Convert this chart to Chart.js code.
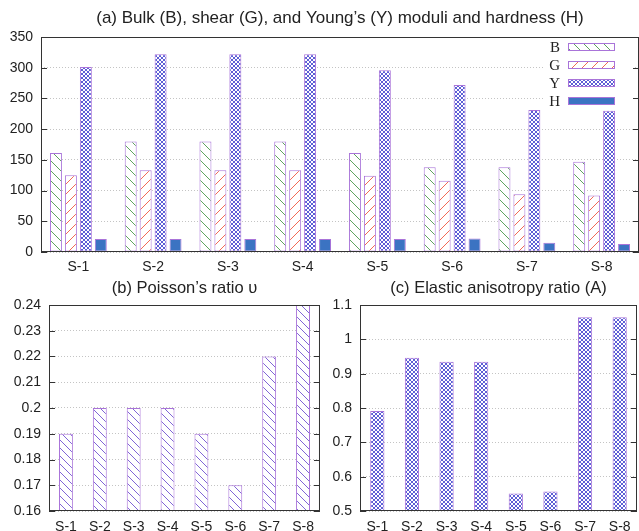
<!DOCTYPE html>
<html><head><meta charset="utf-8">
<script src="https://cdn.jsdelivr.net/npm/chart.js@4"></script>
<style>
html,body{margin:0;padding:0;background:#fff;width:639px;height:531px;overflow:hidden;position:relative}
canvas{position:absolute}
</style>
</head><body>
<canvas id="cA" width="639" height="280" style="left:0px;top:0px"></canvas>
<canvas id="cB" width="322" height="271" style="left:0px;top:260px"></canvas>
<canvas id="cC" width="317" height="271" style="left:322px;top:260px"></canvas>
<script>
const categories = ['S-1','S-2','S-3','S-4','S-5','S-6','S-7','S-8'];
const bulkB   = [161, 180, 180, 180, 161, 138, 138, 147];
const shearG  = [125, 133, 133, 133, 124, 116, 94, 92];
const youngY  = [301, 322, 322, 322, 296, 272, 231, 230];
const hardH   = [21, 21, 21, 21, 21, 22, 15, 13];
const poisson = [0.19, 0.20, 0.20, 0.20, 0.19, 0.17, 0.22, 0.24];
const anisotropy = [0.791, 0.946, 0.935, 0.935, 0.551, 0.557, 1.064, 1.064];
const yTicksA = [0, 50, 100, 150, 200, 250, 300, 350];
const yTicksB = [0.16, 0.17, 0.18, 0.19, 0.20, 0.21, 0.22, 0.23, 0.24];
const yTicksC = [0.5, 0.6, 0.7, 0.8, 0.9, 1.0, 1.1];
const legendLabels = ['B', 'G', 'Y', 'H'];

const FONT = "'Liberation Sans', Arial, sans-serif";
Chart.defaults.font.family = FONT;
Chart.defaults.font.size = 14;
Chart.defaults.color = '#222';
const BORDER = '#a974d9';

function hatch(ctx, color, period, dir) {
  const c = document.createElement('canvas'); c.width = c.height = period;
  const g = c.getContext('2d');
  g.fillStyle = '#fff'; g.fillRect(0, 0, period, period);
  g.strokeStyle = color; g.lineWidth = 1;
  g.beginPath();
  if (dir === '\\') {
    g.moveTo(-1, -1); g.lineTo(period + 1, period + 1);
    g.moveTo(-1, period - 1); g.lineTo(1, period + 1);
    g.moveTo(period - 1, -1); g.lineTo(period + 1, 1);
  } else {
    g.moveTo(-1, period + 1); g.lineTo(period + 1, -1);
    g.moveTo(-1, 1); g.lineTo(1, -1);
    g.moveTo(period - 1, period + 1); g.lineTo(period + 1, period - 1);
  }
  g.stroke();
  return ctx.createPattern(c, 'repeat');
}
function cross(ctx, color) {
  const c = document.createElement('canvas'); c.width = c.height = 4;
  const g = c.getContext('2d');
  g.fillStyle = '#fff'; g.fillRect(0, 0, 4, 4);
  g.fillStyle = color;
  for (let y = 0; y < 4; y++) for (let x = 0; x < 4; x++) {
    if (x === y || x + y === 3) g.fillRect(x, y, 1, 1);
  }
  return ctx.createPattern(c, 'repeat');
}

const framePlugin = {
  id: 'frame',
  afterDraw(chart) {
    const { ctx, chartArea: a } = chart;
    const ys = chart.scales.y;
    ctx.save();
    ctx.strokeStyle = '#333'; ctx.lineWidth = 1;
    ctx.strokeRect(a.left + 0.5, a.top + 0.5, a.right - a.left - 1, a.bottom - a.top - 1);
    ctx.beginPath();
    ys.ticks.forEach(t => {
      const y = Math.round(ys.getPixelForValue(t.value)) + 0.5;
      ctx.moveTo(a.left, y); ctx.lineTo(a.left + 6, y);
      ctx.moveTo(a.right - 6, y); ctx.lineTo(a.right, y);
    });
    ctx.stroke();
    const o = chart.options.plugins.frame || {};
    if (o.title) {
      ctx.font = (o.size || 16) + 'px ' + FONT;
      ctx.fillStyle = '#222';
      ctx.textAlign = 'center'; ctx.textBaseline = 'middle';
      ctx.fillText(o.title, (a.left + a.right) / 2 + (o.dx || 0), o.ty);
    }
    ctx.restore();
  }
};

const legendPlugin = {
  id: 'boxLegend',
  afterDatasetsDraw(chart) {
    const o = chart.options.plugins.boxLegend;
    if (!o || !o.show) return;
    const { ctx, chartArea: a } = chart;
    ctx.save();
    ctx.fillStyle = '#fff';
    ctx.fillRect(a.right - 94, a.top + 2, 88, 70);
    ctx.font = '15px "Liberation Serif", serif';
    ctx.textAlign = 'right'; ctx.textBaseline = 'middle';
    chart.data.datasets.forEach((ds, i) => {
      const y = a.top + 10 + i * 18;
      ctx.fillStyle = '#222';
      ctx.fillText(ds.label, a.right - 79, y + 1);
      ctx.fillStyle = ds.backgroundColor;
      ctx.fillRect(a.right - 71, y - 4, 47, 8);
      ctx.strokeStyle = ds.borderColor; ctx.lineWidth = 1;
      ctx.strokeRect(a.right - 70.5, y - 3.5, 46, 7);
    });
    ctx.restore();
  }
};

function yScale(ticksArr, width) {
  return {
    min: ticksArr[0], max: ticksArr[ticksArr.length - 1],
    afterBuildTicks: s => { s.ticks = ticksArr.map(v => ({ value: v })); },
    afterFit: s => { s.width = width; },
    grid: { color: '#c4c4c4', lineWidth: 1, drawTicks: false },
    border: { display: false, dash: [1, 2] },
    ticks: { padding: 8, color: '#222', callback: v => String(+Number(v).toFixed(3)) }
  };
}
function xScale(height, pad) {
  return {
    afterFit: s => { s.height = height; },
    grid: { display: false, drawTicks: false },
    border: { display: false },
    ticks: { padding: pad, color: '#222', maxRotation: 0, autoSkip: false }
  };
}

const ctxA = document.getElementById('cA').getContext('2d');
new Chart(ctxA, {
  type: 'bar',
  data: {
    labels: categories,
    datasets: [
      { label: legendLabels[0], data: bulkB, backgroundColor: hatch(ctxA, '#5ea35e', 10, '\\') },
      { label: legendLabels[1], data: shearG, backgroundColor: hatch(ctxA, '#f26a55', 10, '/') },
      { label: legendLabels[2], data: youngY, backgroundColor: cross(ctxA, '#5d5dd6') },
      { label: legendLabels[3], data: hardH, backgroundColor: '#3b73c2' }
    ].map(d => Object.assign(d, { borderColor: BORDER, borderWidth: 1, borderSkipped: false,
      categoryPercentage: 0.8, barPercentage: 0.8 }))
  },
  options: {
    responsive: false, animation: false,
    layout: { padding: { top: 37, right: 0, left: 0, bottom: 0 } },
    plugins: { legend: { display: false }, tooltip: { enabled: false },
      boxLegend: { show: true },
      frame: { title: "(a) Bulk (B), shear (G), and Young\u2019s (Y) moduli and hardness (H)", ty: 18, size: 17 } },
    scales: { x: xScale(28, 7), y: yScale(yTicksA, 41) }
  },
  plugins: [framePlugin, legendPlugin]
});

const ctxB = document.getElementById('cB').getContext('2d');
new Chart(ctxB, {
  type: 'bar',
  data: { labels: categories, datasets: [
    { label: 'poisson', data: poisson, backgroundColor: hatch(ctxB, '#8066d6', 8, '\\'),
      borderColor: BORDER, borderWidth: 1, borderSkipped: false, categoryPercentage: 1, barPercentage: 0.41 } ] },
  options: {
    responsive: false, animation: false,
    layout: { padding: { top: 45, right: 1, left: 0, bottom: 0 } },
    plugins: { legend: { display: false }, tooltip: { enabled: false },
      frame: { title: "(b) Poisson\u2019s ratio \u03c5", ty: 28, size: 16.5 } },
    scales: { x: xScale(20, 8), y: yScale(yTicksB, 49) }
  },
  plugins: [framePlugin]
});

const ctxC = document.getElementById('cC').getContext('2d');
new Chart(ctxC, {
  type: 'bar',
  data: { labels: categories, datasets: [
    { label: 'anisotropy', data: anisotropy, backgroundColor: cross(ctxC, '#5d5dd6'),
      borderColor: BORDER, borderWidth: 1, borderSkipped: false, categoryPercentage: 1, barPercentage: 0.41 } ] },
  options: {
    responsive: false, animation: false,
    layout: { padding: { top: 45, right: 2, left: 0, bottom: 0 } },
    plugins: { legend: { display: false }, tooltip: { enabled: false },
      frame: { title: "(c) Elastic anisotropy ratio (A)", ty: 28, size: 16.5 } },
    scales: { x: xScale(20, 8), y: yScale(yTicksC, 38) }
  },
  plugins: [framePlugin]
});
</script>
</body></html>
